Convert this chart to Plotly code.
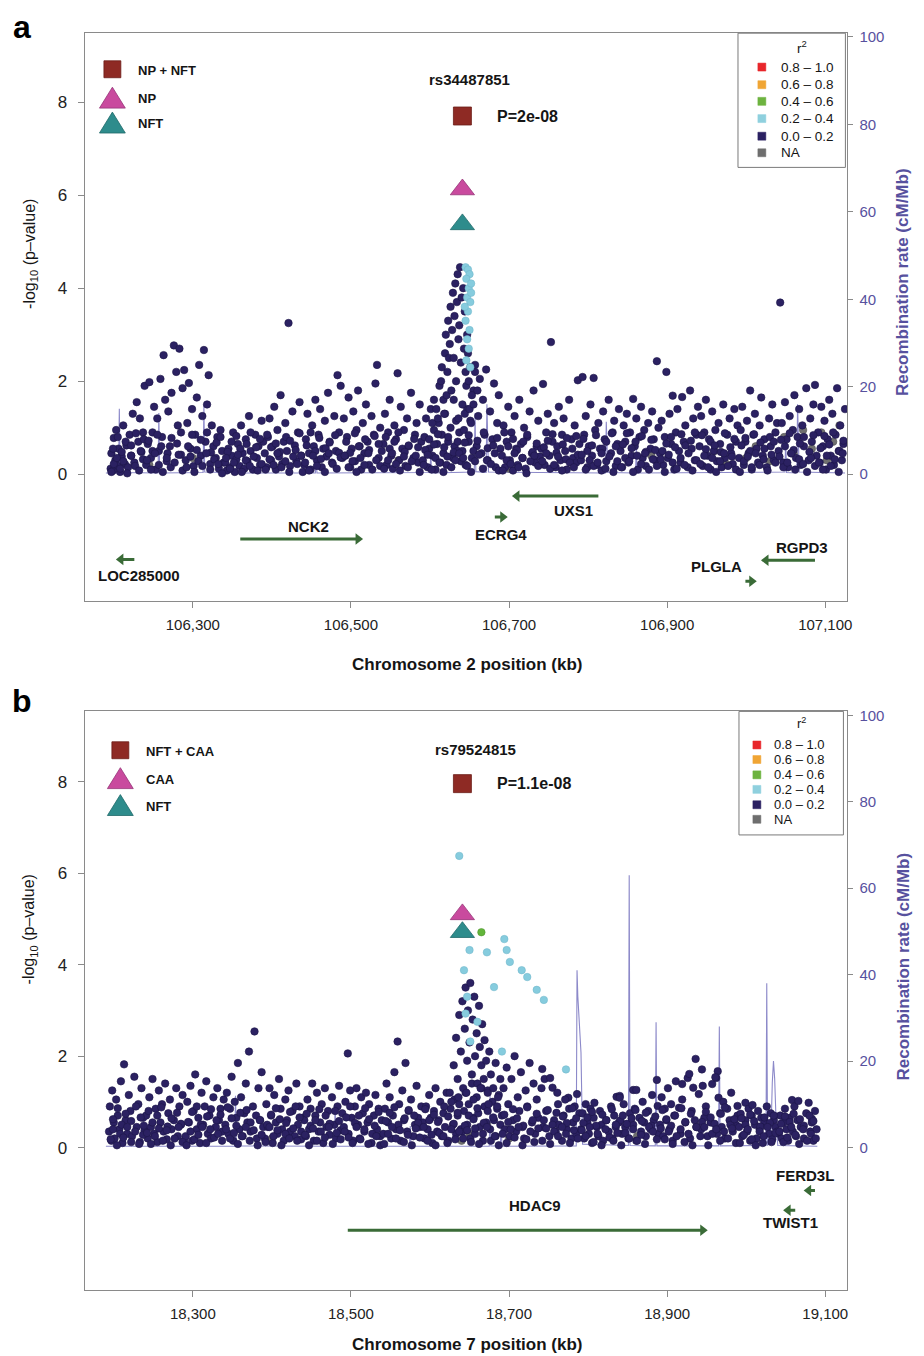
import plotly.graph_objects as go

FONT = "Liberation Sans, Arial, Helvetica, sans-serif"
W, H = 924, 1356

# ======================= DATA : panel a (chromosome 2) =======================
a_ticks_kb = [106300, 106500, 106700, 106900, 107100]

a_band_x = [
    106196,106197,106199,106200,106202,106203,106205,106206,106208,106210,106212,106214,106216,106218,106220,106222,106224,106226,106229,106231,106233,106235,106237,106239,
    106241,106243,106245,106247,106249,106251,106253,106255,106257,106259,106261,106263,106265,106267,106269,106271,106273,106276,106279,106281,106283,106285,106287,106289,
    106291,106293,106295,106297,106299,106301,106303,106305,106308,106310,106312,106314,106316,106318,106320,106322,106324,106326,106329,106331,106333,106335,106337,106339,
    106341,106343,106345,106347,106349,106351,106353,106355,106357,106359,106361,106363,106365,106367,106369,106371,106373,106376,106379,106381,106383,106385,106387,106389,
    106391,106393,106395,106397,106399,106401,106403,106405,106407,106409,106411,106413,106415,106417,106419,106421,106423,106426,106429,106431,106433,106435,106437,106439,
    106441,106443,106445,106447,106449,106451,106453,106455,106457,106459,106461,106463,106465,106467,106469,106471,106473,106476,106479,106481,106483,106485,106487,106489,
    106491,106493,106495,106497,106499,106501,106503,106505,106507,106509,106511,106513,106515,106517,106519,106521,106523,106526,106529,106531,106533,106535,106537,106539,
    106541,106543,106545,106547,106549,106551,106553,106555,106557,106559,106561,106563,106565,106567,106569,106571,106573,106576,106579,106581,106583,106585,106587,106589,
    106591,106593,106595,106597,106599,106601,106603,106605,106607,106609,106611,106613,106615,106617,106619,106621,106623,106626,106629,106631,106633,106635,106637,106639,
    106641,106643,106645,106647,106649,106651,106653,106655,106657,106659,106661,106663,106665,106667,106669,106671,106673,106676,106679,106681,106683,106685,106687,106689,
    106691,106693,106695,106697,106699,106701,106703,106705,106707,106709,106711,106713,106715,106717,106719,106721,106723,106726,106729,106731,106733,106735,106737,106739,
    106741,106743,106745,106747,106749,106751,106753,106755,106757,106759,106761,106763,106765,106767,106769,106771,106773,106776,106779,106781,106783,106785,106787,106789,
    106791,106793,106795,106797,106799,106801,106803,106805,106807,106809,106811,106813,106815,106817,106819,106821,106823,106826,106829,106831,106833,106835,106837,106839,
    106841,106843,106845,106847,106849,106851,106853,106855,106857,106859,106861,106863,106865,106867,106869,106871,106873,106876,106879,106881,106883,106885,106887,106889,
    106891,106893,106895,106897,106899,106901,106903,106905,106907,106909,106911,106913,106915,106917,106919,106921,106923,106926,106929,106931,106933,106935,106937,106939,
    106941,106943,106945,106947,106949,106951,106953,106955,106957,106959,106961,106963,106965,106967,106969,106971,106973,106976,106979,106981,106983,106985,106987,106989,
    106991,106993,106995,106997,106999,107001,107003,107005,107007,107009,107011,107013,107015,107017,107019,107021,107023,107026,107029,107031,107033,107035,107037,107039,
    107041,107043,107045,107047,107049,107051,107053,107055,107057,107059,107061,107063,107065,107067,107069,107071,107073,107076,107079,107081,107083,107085,107087,107089,
    107091,107093,107095,107097,107099,107101,107103,107105,107107,107109,107111,107113,107115,107117,107119,107121,107123,107125,
]
a_band_y = [
    0.12,0.45,0.08,0.78,0.30,0.95,0.18,0.55,0.05,0.38,1.05,0.22,0.62,0.15,0.85,0.40,1.30,0.25,1.55,0.70,1.20,0.48,0.90,1.90,
    0.20,0.65,1.98,0.35,0.90,1.45,0.10,1.20,0.50,2.05,0.80,2.56,1.60,0.28,1.35,0.60,1.75,2.77,2.20,1.05,2.70,0.42,1.85,2.24,
    0.30,1.10,1.96,0.55,1.40,0.18,0.85,1.65,2.35,0.40,1.25,2.67,0.70,1.50,2.13,0.22,1.05,0.60,0.35,0.80,0.12,0.95,0.50,0.25,
    0.25,0.08,0.55,0.15,0.40,0.90,0.05,0.32,0.65,0.18,1.05,0.45,0.12,0.75,0.28,1.25,0.50,0.10,0.85,0.35,0.60,0.20,1.15,0.70,
    0.45,0.15,0.80,1.20,0.30,0.60,1.45,0.10,0.95,0.38,1.70,0.22,0.70,1.10,0.50,3.25,0.18,1.35,0.62,0.28,0.90,1.55,0.40,0.05,
    0.20,0.75,1.30,0.45,0.10,1.05,0.60,1.60,0.30,0.85,1.40,0.15,0.55,1.15,0.38,1.75,0.70,0.25,1.25,0.50,2.13,0.90,1.90,0.35,
    1.20,0.40,0.80,1.65,0.15,0.55,1.35,0.28,0.95,1.80,0.60,0.10,1.10,0.45,1.50,0.70,0.20,1.25,0.85,1.95,2.35,0.35,1.00,0.50,
    0.65,1.30,0.20,0.90,1.60,0.40,0.12,1.05,0.75,2.17,0.30,1.45,0.55,0.95,0.18,1.20,0.60,1.75,0.35,0.85,1.10,0.25,1.50,0.70,
    0.30,0.80,1.20,0.15,0.55,1.40,0.40,0.95,0.10,0.65,1.10,0.25,0.85,0.45,1.30,0.20,0.70,1.00,0.35,0.60,1.15,0.50,0.90,0.28,
    0.50,0.95,0.20,1.40,0.70,1.15,0.35,1.80,2.35,0.60,1.25,2.05,0.45,1.60,0.85,2.25,0.30,1.35,0.75,1.95,0.15,1.10,1.70,0.55,
    0.40,1.05,0.15,0.70,1.45,0.30,0.90,0.08,1.25,0.55,0.20,1.60,0.65,0.35,1.00,0.12,0.80,1.35,0.45,1.80,0.25,0.60,1.15,0.38,
    0.55,1.94,0.20,0.90,1.30,0.40,2.84,0.70,1.10,0.15,0.60,1.45,0.30,0.85,1.20,0.50,0.10,1.60,0.75,0.35,1.05,0.25,2.02,0.65,
    0.30,2.09,0.85,1.25,0.15,0.60,1.50,0.40,2.07,0.95,0.20,1.10,0.55,0.08,1.35,0.75,0.28,1.60,0.45,0.90,1.15,0.18,0.65,1.40,
    0.50,0.15,1.05,0.70,1.30,0.25,0.90,0.40,1.62,0.60,1.20,0.10,0.80,1.45,0.35,0.95,0.18,1.10,0.55,1.35,0.75,0.30,2.43,1.00,
    0.45,1.15,0.20,0.80,2.20,0.35,1.30,0.65,1.69,0.10,0.90,1.40,0.50,0.25,1.66,0.70,1.05,0.15,1.80,0.55,1.20,0.30,0.85,1.45,
    0.60,1.25,0.18,0.90,1.60,0.40,0.75,0.10,1.35,0.50,0.95,0.28,1.10,0.65,0.15,1.50,0.35,0.85,1.20,0.45,0.22,1.40,0.70,1.05,
    0.35,0.95,1.45,0.20,0.70,1.15,0.45,1.80,0.10,0.85,1.30,0.55,0.25,1.05,1.65,0.40,0.75,0.15,1.20,0.60,1.50,0.30,0.90,1.10,
    0.50,3.69,1.10,0.25,1.55,0.75,0.15,1.25,0.45,0.95,1.70,0.35,0.80,1.40,0.20,1.05,0.60,1.85,0.30,1.20,0.70,1.50,1.92,0.40,
    0.90,0.25,1.45,0.60,1.15,0.10,0.75,1.60,0.40,1.30,0.20,0.85,1.85,0.50,1.05,0.30,0.65,1.40,
]
a_low_x = [
    106197,106200,106204,106208,106212,106217,106222,106227,106232,106237,
    106242,106247,106252,106257,106262,106267,106272,106277,106282,106287,
    106292,106297,106302,106307,106312,106317,106322,106327,106332,106337,
    106342,106347,106352,106357,106362,106367,106372,106377,106382,106387,
    106392,106397,106402,106407,106412,106417,106422,106427,106432,106437,
    106442,106447,106452,106457,106462,106467,106472,106477,106482,106487,
    106492,106497,106502,106507,106512,106517,106522,106527,106532,106537,
    106542,106547,106552,106557,106562,106567,106572,106577,106582,106587,
    106592,106597,106602,106607,106612,106617,106622,106627,106632,106637,
    106642,106647,106652,106657,106662,106667,106672,106677,106682,106687,
    106692,106697,106702,106707,106712,106717,106722,106727,106732,106737,
    106742,106747,106752,106757,106762,106767,106772,106777,106782,106787,
    106792,106797,106802,106807,106812,106817,106822,106827,106832,106837,
    106842,106847,106852,106857,106862,106867,106872,106877,106882,106887,
    106892,106897,106902,106907,106912,106917,106922,106927,106932,106937,
    106942,106947,106952,106957,106962,106967,106972,106977,106982,106987,
    106992,106997,107002,107007,107012,107017,107022,107027,107032,107037,
    107042,107047,107052,107057,107062,107067,107072,107077,107082,107087,
    107092,107097,107102,107107,107112,107117,107122,
]
a_low_y = [
    0.05,0.22,0.35,0.12,0.28,0.02,0.40,0.18,0.08,0.32,
    0.30,0.10,0.45,0.20,0.05,0.35,0.15,0.25,0.42,0.08,
    0.15,0.38,0.05,0.28,0.18,0.45,0.10,0.32,0.22,0.02,
    0.35,0.12,0.25,0.42,0.05,0.30,0.18,0.38,0.08,0.22,
    0.10,0.32,0.20,0.45,0.15,0.28,0.05,0.38,0.22,0.40,
    0.25,0.08,0.40,0.18,0.33,0.05,0.45,0.22,0.12,0.36,
    0.40,0.15,0.28,0.05,0.35,0.20,0.45,0.10,0.30,0.18,
    0.12,0.30,0.45,0.22,0.08,0.38,0.15,0.28,0.40,0.05,
    0.20,0.42,0.10,0.35,0.25,0.05,0.38,0.15,0.30,0.45,
    0.35,0.18,0.05,0.28,0.42,0.12,0.30,0.22,0.45,0.08,
    0.08,0.30,0.22,0.45,0.15,0.35,0.02,0.28,0.40,0.18,
    0.28,0.45,0.12,0.20,0.38,0.08,0.32,0.25,0.15,0.42,
    0.42,0.10,0.30,0.18,0.25,0.45,0.12,0.38,0.05,0.28,
    0.15,0.35,0.28,0.05,0.40,0.22,0.45,0.10,0.32,0.18,
    0.32,0.05,0.42,0.25,0.12,0.35,0.20,0.45,0.08,0.30,
    0.22,0.40,0.15,0.35,0.05,0.28,0.45,0.18,0.38,0.10,
    0.05,0.28,0.38,0.15,0.45,0.20,0.32,0.08,0.42,0.25,
    0.38,0.15,0.25,0.45,0.10,0.32,0.22,0.05,0.35,0.18,
    0.25,0.10,0.40,0.18,0.32,0.05,0.45,
]
a_mid_x = [
    106199,106205,106210,106215,106222,106228,106234,106238,
    106244,106249,106255,106260,106268,106273,106280,106285,
    106294,106299,106305,106310,106318,106323,106330,106335,
    106344,106349,106355,106360,106368,106373,106380,106385,
    106394,106399,106405,106410,106418,106423,106430,106435,
    106444,106449,106455,106460,106468,106473,106480,106485,
    106494,106499,106505,106510,106518,106523,106530,106535,
    106544,106549,106555,106560,106568,106573,106580,106585,
    106594,106599,106605,106610,106618,106623,106630,106635,
    106644,106649,106655,106660,106668,106673,106680,106685,
    106694,106699,106705,106710,106718,106723,106730,106735,
    106744,106749,106755,106760,106768,106773,106780,106785,
    106794,106799,106805,106810,106818,106823,106830,106835,
    106844,106849,106855,106860,106868,106873,106880,106885,
    106894,106899,106905,106910,106918,106923,106930,106935,
    106944,106949,106955,106960,106968,106973,106980,106985,
    106994,106999,107005,107010,107018,107023,107030,107035,
    107044,107049,107055,107060,107068,107073,107080,107085,
    107094,107099,107105,107110,107118,107123,
]
a_mid_y = [
    0.55,0.80,0.48,0.70,0.62,0.88,0.50,0.75,
    0.72,0.50,0.85,0.60,0.45,0.78,0.66,0.90,
    0.60,0.85,0.52,0.74,0.90,0.47,0.68,0.80,
    0.48,0.70,0.82,0.55,0.65,0.90,0.58,0.76,
    0.85,0.58,0.66,0.48,0.80,0.72,0.52,0.88,
    0.62,0.90,0.50,0.78,0.56,0.68,0.84,0.46,
    0.70,0.46,0.88,0.60,0.75,0.52,0.82,0.65,
    0.80,0.55,0.70,0.90,0.48,0.62,0.76,0.58,
    0.52,0.75,0.64,0.86,0.58,0.80,0.47,0.70,
    0.68,0.84,0.50,0.72,0.90,0.56,0.62,0.78,
    0.90,0.60,0.76,0.52,0.70,0.85,0.48,0.66,
    0.58,0.72,0.86,0.46,0.64,0.78,0.55,0.82,
    0.76,0.50,0.62,0.84,0.55,0.70,0.88,0.60,
    0.64,0.88,0.56,0.70,0.82,0.48,0.74,0.52,
    0.50,0.66,0.80,0.58,0.86,0.62,0.72,0.90,
    0.84,0.54,0.70,0.62,0.48,0.88,0.58,0.76,
    0.62,0.78,0.50,0.86,0.68,0.55,0.80,0.70,
    0.74,0.60,0.88,0.52,0.66,0.80,0.48,0.84,
    0.56,0.82,0.64,0.90,0.50,0.72,
]
a_peak_x = [106603,106605,106608,106610,106612,106614,106615,106617,106618,106619,106620,106621,106622,106623,106624,106625,106626,
            106627,106628,106629,106630,106630,106631,106632,106633,106634,106635,106636,106636,106637,106638,106639,106640,106641,
            106642,106643,106644,106644,106645,106646,106647,106648,106649,106650,106651,106652,106653,106655,106657,106660]
a_peak_y = [1.10,1.60,1.40,1.20,1.90,2.00,2.30,1.60,1.30,2.60,3.00,1.70,2.20,3.30,2.50,2.80,3.60,
            1.80,3.10,3.90,2.50,1.60,3.40,4.10,2.00,3.70,4.30,2.90,1.20,3.20,4.45,2.40,3.80,1.50,
            4.00,2.70,3.50,1.30,2.20,1.90,3.00,2.60,2.00,1.40,2.30,1.10,1.70,1.50,2.20,1.80]
a_lblue_x = [106645,106648,106650,106646,106649,106647,106651,106648,106645,106650,106647,106649,106646,106651,106644,106652,106652]
a_lblue_y = [4.45,4.40,4.30,4.20,4.00,3.80,3.70,3.50,3.30,3.10,2.90,2.70,2.45,2.30,3.60,4.10,3.90]
a_gray_x = [106245,106300,106405,106560,106700,106880,106960,106975,107000,107012,107030,107048,107060,107072,107083,107095,107102,107110,107118]
a_gray_y = [0.20,0.35,0.15,0.30,0.12,0.40,0.50,0.22,0.35,0.60,0.28,0.80,0.45,0.95,0.55,0.90,0.30,0.70,1.05]

a_rec_kb = [106190, 106206,106207,106208, 106256,106257,106258, 106313,106314,106315, 106363,106364,106366,
            106455,106456,106457, 106600,106601,106602, 106656,106657,106658, 106671,106672,106674,
            106822,106823,106825, 106860,106861,106862, 107049,107050,107051, 107064,107065,107067, 107125]
a_rec_rate = [0.3, 0.3,15,0.4, 0.3,14,0.3, 0.4,16,0.5, 0.3,6,0.3,
              0.3,4,0.3, 0.4,5,0.3, 0.5,14,0.6, 0.4,16,0.5,
              0.3,12,0.4, 0.3,6,0.3, 0.5,8,0.4, 0.3,16,0.5, 0.3]

a_lead_snp = "rs34487851"
a_lead_kb = 106641
a_lead_p_text = "P=2e-08"
a_lead_logp = [7.70, 6.12, 5.37]          # NP + NFT, NP, NFT
a_lead_names = ["NP + NFT", "NP", "NFT"]

a_gene_names = ["UXS1", "ECRG4", "NCK2", "LOC285000", "RGPD3", "PLGLA"]
a_gene_start = [106710, 106682, 106360, 106209, 107025, 106999]
a_gene_end = [106813, 106692, 106509, 106226, 107087, 107007]
a_gene_strand = ["-", "+", "+", "-", "-", "+"]
a_gene_row = [-0.47, -0.92, -1.39, -1.83, -1.85, -2.30]
a_label_x = [106782, 106690, 106446, 106232, 107071, 106963]
a_label_y = [-0.77, -1.30, -1.13, -2.17, -1.58, -1.98]

# ======================= DATA : panel b (chromosome 7) =======================
b_ticks_kb = [18300, 18500, 18700, 18900, 19100]

b_band_x = [
    18194,18195,18197,18198,18200,18201,18203,18205,18207,18209,18211,18213,18215,18217,18219,18221,18223,18226,18229,18231,18233,18235,18237,18239,
    18241,18243,18245,18247,18249,18251,18253,18255,18257,18259,18261,18263,18265,18267,18269,18271,18273,18276,18279,18281,18283,18285,18287,18289,
    18291,18293,18295,18297,18299,18301,18303,18305,18307,18309,18311,18313,18315,18317,18319,18321,18323,18326,18329,18331,18333,18335,18337,18339,
    18341,18343,18345,18347,18349,18351,18353,18355,18357,18359,18361,18363,18365,18367,18369,18371,18373,18376,18378,18381,18383,18385,18387,18389,
    18391,18393,18395,18397,18399,18401,18403,18405,18407,18409,18411,18413,18415,18417,18419,18421,18423,18426,18429,18431,18433,18435,18437,18439,
    18441,18443,18445,18447,18449,18451,18453,18455,18457,18459,18461,18463,18465,18467,18469,18471,18473,18476,18479,18481,18483,18485,18487,18489,
    18491,18493,18496,18497,18499,18501,18503,18505,18507,18509,18511,18513,18515,18517,18519,18521,18523,18526,18529,18531,18533,18535,18537,18539,
    18541,18543,18545,18547,18549,18551,18553,18555,18557,18559,18561,18563,18565,18567,18569,18571,18573,18576,18579,18581,18583,18585,18587,18589,
    18591,18593,18595,18597,18599,18601,18603,18605,18607,18609,18611,18613,18615,18617,18619,18621,18623,18626,18629,18631,18633,18635,18637,18639,
    18641,18643,18645,18647,18649,18651,18653,18655,18657,18659,18661,18663,18665,18667,18669,18671,18673,18676,18679,18681,18683,18685,18687,18689,
    18691,18693,18695,18697,18699,18701,18703,18705,18707,18709,18711,18713,18715,18717,18719,18721,18723,18726,18729,18731,18733,18735,18737,18742,
    18741,18743,18745,18747,18752,18751,18755,18757,18762,18759,18761,18763,18775,18767,18769,18771,18773,18776,18779,18786,18781,18783,18785,18789,
    18791,18793,18795,18797,18799,18801,18803,18805,18807,18808,18811,18813,18815,18817,18819,18836,18823,18826,18829,18831,18833,18835,18840,18839,
    18841,18843,18845,18847,18840,18851,18853,18857,18857,18859,18861,18861,18865,18867,18869,18871,18873,18876,18879,18881,18883,18887,18888,18889,
    18891,18893,18895,18897,18899,18901,18903,18905,18907,18909,18911,18915,18919,18917,18919,18926,18923,18928,18929,18931,18933,18936,18937,18944,
    18940,18943,18945,18947,18949,18951,18957,18962,18955,18964,18961,18963,18965,18967,18969,18971,18973,18976,18979,18981,18983,18989,18987,18989,
    18991,18993,18995,18999,18999,19001,19003,19005,19007,19008,19011,19013,19015,19017,19019,19021,19023,19026,19029,19031,19033,19035,19037,19039,
    19041,19043,19045,19047,19049,19051,19053,19055,19058,19059,19061,19063,19065,19066,19069,19079,19073,19076,19083,19081,19083,19085,19087,19089,
]
b_band_y = [
    0.35,0.90,0.15,1.25,0.55,0.20,1.05,0.70,0.40,1.45,0.10,1.82,0.60,0.30,1.15,0.80,0.25,1.55,0.45,0.95,0.12,1.30,0.65,0.38,
    0.70,0.20,1.10,0.45,1.50,0.30,0.85,0.12,1.25,0.55,0.95,0.35,1.40,0.18,0.75,1.05,0.40,0.60,1.30,0.25,0.90,0.50,1.15,0.15,
    0.25,1.00,0.55,1.35,0.15,0.80,1.60,0.40,0.65,0.10,1.20,0.50,0.90,1.45,0.30,0.70,0.20,1.10,0.45,1.30,0.60,0.85,0.35,1.05,
    0.50,1.20,0.30,0.85,1.55,0.15,1.00,0.65,1.85,0.40,1.10,0.25,0.75,1.40,0.55,2.10,0.35,0.90,2.54,0.20,1.30,0.60,1.65,0.45,
    0.20,0.95,0.45,1.30,0.70,0.10,1.15,0.55,0.30,1.50,0.85,0.40,0.15,1.05,0.60,1.25,0.35,0.80,0.25,1.40,0.50,0.90,0.18,0.65,
    0.60,0.25,1.05,0.40,0.85,1.40,0.15,0.70,1.20,0.35,0.55,0.95,0.10,1.30,0.45,0.80,0.28,1.10,0.50,0.20,0.90,1.35,0.38,0.75,
    0.45,1.00,2.06,0.30,1.25,0.65,0.15,0.90,1.30,0.50,0.20,1.10,0.75,0.35,1.20,0.55,0.95,0.10,0.70,1.15,0.40,0.85,0.25,0.60,
    0.30,0.85,1.40,0.55,1.10,0.20,0.70,1.65,0.40,2.32,0.95,0.15,1.25,0.60,1.85,0.35,0.80,1.05,0.25,0.50,1.35,0.65,0.45,0.90,
    0.55,0.20,0.90,0.40,1.15,0.65,0.10,0.80,1.30,0.35,0.60,1.00,0.25,0.75,0.45,1.20,0.15,0.85,0.50,1.05,0.30,0.70,0.95,0.40,
    0.35,0.80,1.20,0.50,0.95,0.20,1.40,0.65,0.30,1.10,0.75,0.45,1.30,0.15,0.90,0.55,1.25,0.40,1.00,0.60,0.25,0.85,1.15,0.50,
    0.70,1.30,0.40,1.75,0.95,0.25,1.50,0.60,2.00,0.35,1.10,0.80,1.65,0.45,0.20,1.25,0.90,1.85,0.55,1.40,0.30,1.05,0.65,1.72,
    1.30,0.45,1.50,0.80,1.52,0.25,1.31,0.60,0.95,0.35,1.20,0.50,1.09,0.15,0.70,1.05,0.40,0.85,0.20,1.17,0.55,0.90,0.30,0.75,
    0.40,0.75,0.20,0.95,0.55,0.30,0.85,0.10,0.65,0.98,0.45,0.25,0.80,0.50,0.15,1.11,0.60,0.35,0.90,0.20,0.70,0.45,1.13,0.55,
    0.60,0.30,0.95,0.45,1.09,0.20,0.75,1.26,0.50,0.85,0.15,1.26,0.65,0.35,1.00,0.55,0.25,0.80,0.40,1.15,0.60,1.48,0.91,0.30,
    0.50,1.10,0.25,0.85,0.60,1.30,0.40,0.95,0.15,0.70,1.45,0.87,1.39,0.30,1.05,1.52,0.55,1.61,0.20,0.80,1.31,1.94,0.45,1.71,
    1.17,0.40,1.35,0.65,0.90,0.25,1.39,1.52,0.55,1.67,1.54,0.30,1.09,0.75,0.45,1.00,0.20,0.85,0.60,1.20,0.35,0.91,0.50,0.70,
    0.45,0.74,0.25,0.98,0.60,0.35,0.85,0.15,0.70,0.93,0.50,0.20,0.80,0.40,0.65,0.10,0.55,0.90,0.30,0.75,0.18,0.60,0.45,0.35,
    0.30,0.70,0.20,0.55,0.85,0.40,0.15,0.65,1.04,0.35,0.90,0.25,0.60,1.02,0.45,0.98,0.20,0.75,0.63,0.35,0.55,0.15,0.80,0.40,
]
b_low_x = [
    18196,18199,18204,18208,18212,18217,18222,18227,18232,18237,
    18242,18247,18252,18257,18262,18267,18272,18277,18282,18287,
    18292,18297,18302,18307,18312,18317,18322,18327,18332,18337,
    18342,18347,18352,18357,18362,18367,18372,18377,18382,18387,
    18392,18397,18402,18407,18412,18417,18422,18427,18432,18437,
    18442,18447,18452,18457,18462,18467,18472,18477,18482,18487,
    18492,18497,18502,18507,18512,18517,18522,18527,18532,18537,
    18542,18547,18552,18557,18562,18567,18572,18577,18582,18587,
    18592,18597,18602,18607,18612,18617,18622,18627,18632,18637,
    18642,18647,18652,18657,18662,18667,18672,18677,18682,18687,
    18692,18697,18702,18707,18712,18717,18722,18727,18732,18737,
    18742,18747,18752,18757,18762,18767,18772,18777,18782,18787,
    18792,18797,18802,18807,18812,18817,18822,18827,18832,18837,
    18842,18847,18852,18857,18862,18867,18872,18877,18882,18887,
    18892,18897,18902,18907,18912,18917,18922,18927,18932,18937,
    18942,18947,18952,18957,18962,18967,18972,18977,18982,18987,
    18992,18997,19002,19007,19012,19017,19022,19027,19032,19037,
    19042,19047,19052,19057,19062,19067,19072,19077,19082,19088,
]
b_low_y = [
    0.18,0.40,0.05,0.30,0.22,0.45,0.12,0.35,0.08,0.28,
    0.32,0.08,0.25,0.42,0.15,0.38,0.05,0.20,0.45,0.12,
    0.05,0.35,0.18,0.28,0.45,0.10,0.40,0.22,0.30,0.15,
    0.40,0.20,0.32,0.08,0.25,0.45,0.15,0.38,0.05,0.28,
    0.12,0.45,0.25,0.38,0.05,0.30,0.20,0.42,0.15,0.35,
    0.28,0.05,0.42,0.15,0.35,0.22,0.45,0.08,0.32,0.18,
    0.35,0.22,0.10,0.45,0.18,0.40,0.08,0.30,0.25,0.05,
    0.08,0.30,0.45,0.20,0.38,0.12,0.28,0.05,0.42,0.22,
    0.45,0.15,0.28,0.05,0.32,0.25,0.10,0.40,0.18,0.35,
    0.20,0.38,0.12,0.42,0.08,0.30,0.45,0.15,0.25,0.05,
    0.30,0.10,0.40,0.22,0.45,0.05,0.18,0.35,0.12,0.42,
    0.15,0.42,0.08,0.35,0.25,0.45,0.30,0.10,0.38,0.20,
    0.38,0.25,0.45,0.12,0.30,0.05,0.40,0.22,0.15,0.32,
    0.05,0.32,0.20,0.40,0.15,0.28,0.08,0.45,0.35,0.18,
    0.42,0.18,0.35,0.08,0.25,0.40,0.12,0.30,0.05,0.45,
    0.25,0.45,0.05,0.30,0.40,0.15,0.35,0.20,0.42,0.10,
    0.10,0.28,0.40,0.18,0.05,0.35,0.25,0.45,0.12,0.32,
    0.35,0.12,0.22,0.45,0.28,0.08,0.40,0.15,0.30,0.20,
]
b_mid_x = [
    18199,18205,18210,18215,18222,18228,18234,18238,
    18244,18249,18255,18260,18268,18273,18280,18285,
    18294,18299,18305,18310,18318,18323,18330,18335,
    18344,18349,18355,18360,18368,18373,18380,18385,
    18394,18399,18405,18410,18418,18423,18430,18435,
    18444,18449,18455,18460,18468,18473,18480,18485,
    18494,18499,18505,18510,18518,18523,18530,18535,
    18544,18549,18555,18560,18568,18573,18580,18585,
    18594,18599,18605,18610,18618,18623,18630,18635,
    18644,18649,18655,18660,18668,18673,18680,18685,
    18694,18699,18705,18710,18718,18723,18730,18735,
    18744,18749,18755,18760,18768,18773,18780,18785,
    18794,18799,18805,18810,18818,18823,18830,18835,
    18844,18849,18855,18860,18868,18873,18880,18885,
    18894,18899,18905,18910,18918,18923,18930,18935,
    18944,18949,18955,18960,18968,18973,18980,18985,
    18994,18999,19005,19010,19018,19023,19030,19035,
    19044,19049,19055,19060,19068,19073,19080,19085,
]
b_mid_y = [
    0.62,0.86,0.50,0.74,0.58,0.90,0.66,0.48,
    0.80,0.55,0.70,0.88,0.46,0.64,0.76,0.52,
    0.56,0.78,0.90,0.50,0.68,0.84,0.60,0.72,
    0.88,0.64,0.48,0.76,0.82,0.55,0.70,0.60,
    0.50,0.72,0.86,0.62,0.54,0.78,0.90,0.66,
    0.74,0.48,0.60,0.84,0.70,0.52,0.80,0.58,
    0.66,0.90,0.54,0.70,0.86,0.62,0.48,0.78,
    0.58,0.76,0.88,0.50,0.64,0.82,0.70,0.54,
    0.84,0.60,0.72,0.56,0.90,0.68,0.52,0.76,
    0.48,0.70,0.62,0.86,0.54,0.80,0.66,0.90,
    0.72,0.56,0.84,0.64,0.48,0.88,0.60,0.74,
    0.60,0.82,0.50,0.76,0.68,0.54,0.86,0.64,
    0.54,0.66,0.78,0.48,0.72,0.60,0.84,0.50,
    0.70,0.52,0.64,0.82,0.58,0.76,0.48,0.68,
    0.82,0.62,0.48,0.70,0.86,0.56,0.74,0.60,
    0.56,0.78,0.66,0.52,0.74,0.88,0.50,0.62,
    0.64,0.50,0.72,0.58,0.46,0.66,0.54,0.70,
    0.52,0.68,0.56,0.74,0.62,0.48,0.70,0.58,
]
b_peak_x = [18630,18633,18635,18637,18639,18641,18642,18644,18645,18647,18648,18650,18651,18653,18654,18656,18657,
            18659,18660,18662,18663,18665,18666,18668,18669,18671,18673,18675,18677,18680,18683,18686,18689,
            18625,18627,18636,18646,18655,18664,18674]
b_peak_y = [1.80,2.40,1.50,2.90,2.10,3.20,1.30,2.60,3.50,1.90,3.00,2.30,3.60,1.60,2.80,3.30,2.00,
            2.50,1.40,3.10,2.20,1.80,2.70,1.50,2.35,1.90,1.20,2.10,1.60,1.30,1.85,1.10,1.50,
            1.20,1.00,1.10,1.20,1.05,1.30,0.95]
b_lblue_x = [18637,18650,18672,18694,18697,18701,18716,18723,18735,18744,18643,18647,18681,18645,18660,18691,18651,18772]
b_lblue_y = [6.38,4.32,4.27,4.56,4.32,4.06,3.88,3.73,3.45,3.23,3.88,3.30,3.51,2.93,2.75,2.10,2.32,1.71]
b_green_x = [18665]
b_green_y = [4.71]
b_gray_x = [18400, 18640, 18650, 18672, 18700, 18862]
b_gray_y = [0.20, 0.15, 0.30, 0.50, 0.20, 0.25]

b_rec_kb = [18190, 18353,18354,18355, 18479,18480,18481, 18574,18575,18576, 18675,18676,18677, 18689,18690,18691,
            18785,18786,18787,18789,18791,18793, 18851,18852,18853, 18885,18886,18887, 18965,18966,18967,
            19025,19026,19027, 19031,19033,19034.5,19036,19038,19040, 19090]
b_rec_rate = [0.3, 0.3,12,0.4, 0.3,10,0.3, 0.3,5,0.3, 0.3,12,0.4, 0.3,6,0.3,
              0.4,41,35,28,22,0.8, 0.5,63,0.5, 0.4,29,0.4, 0.4,28,0.4,
              0.5,38,0.6, 1.0,15,20,16,5,0.5, 0.3]

b_lead_snp = "rs79524815"
b_lead_kb = 18641
b_lead_p_text = "P=1.1e-08"
b_lead_logp = [7.96, 5.10, 4.71]          # NFT + CAA, CAA, NFT
b_lead_names = ["NFT + CAA", "CAA", "NFT"]

b_gene_names = ["HDAC9", "TWIST1", "FERD3L"]
b_gene_start = [18496, 19053, 19079]
b_gene_end = [18945, 19062, 19087]
b_gene_strand = ["+", "-", "-"]
b_gene_row = [-1.81, -1.37, -0.94]
b_label_x = [18733, 19056, 19075]
b_label_y = [-1.26, -1.63, -0.61]

r2_labels = ["0.8 \u2013 1.0", "0.6 \u2013 0.8", "0.4 \u2013 0.6", "0.2 \u2013 0.4", "0.0 \u2013 0.2", "NA"]
r2_colors = ["#E8262B", "#F0A534", "#6DB33F", "#8FD0DE", "#2B2162", "#6E6E6E"]

# ======================= STYLE =======================
NAVY, LBLUE, GREEN, GRAY = r2_colors[4], "#86CCDE", "#62B53A", "#707070"
SQ_COL, PINK, TEAL = "#8E2A24", "#C94A9E", "#2E8C8C"
GENE_COL = "#3A6B37"
REC_COL = "#8C89C9"
AX_COL = "#8a8a8a"
RIGHT_COL = "#57519E"
DOT = 7.5

fig = go.Figure()


def pts(xs, ys, color, xa, ya, size=DOT, lc="#1d1648", lw=0.6, symbol="circle"):
    fig.add_trace(go.Scatter(x=xs, y=ys, mode="markers", xaxis=xa, yaxis=ya,
                             marker=dict(size=size, color=color, symbol=symbol,
                                         line=dict(width=lw, color=lc)),
                             showlegend=False, hoverinfo="skip"))


def panel(xa, ya_rec, ya_p, rec, gray, layers, lblue, green, lead_kb, lead_logp):
    fig.add_trace(go.Scatter(x=rec[0], y=rec[1], mode="lines", xaxis=xa, yaxis=ya_rec,
                             line=dict(color=REC_COL, width=1.1), showlegend=False, hoverinfo="skip"))
    pts(gray[0], gray[1], GRAY, xa, ya_p, lc="#555555")
    for lx, ly in layers:
        pts(lx, ly, NAVY, xa, ya_p)
    pts(lblue[0], lblue[1], LBLUE, xa, ya_p, lc="#6fb5c8", lw=0.5)
    if green is not None:
        pts(green[0], green[1], GREEN, xa, ya_p, lc="#4a8f2a", lw=0.5)
    pts([lead_kb], [lead_logp[2]], TEAL, xa, ya_p, size=21, lc="#1f6a6a", lw=0.8, symbol="triangle-up")
    pts([lead_kb], [lead_logp[1]], PINK, xa, ya_p, size=21, lc="#953477", lw=0.8, symbol="triangle-up")
    pts([lead_kb], [lead_logp[0]], SQ_COL, xa, ya_p, size=18, lc="#6b1c17", lw=0.8, symbol="square")


panel("x", "y", "y2", (a_rec_kb, a_rec_rate), (a_gray_x, a_gray_y),
      [(a_band_x, a_band_y), (a_mid_x, a_mid_y), (a_low_x, a_low_y), (a_peak_x, a_peak_y)],
      (a_lblue_x, a_lblue_y), None, a_lead_kb, a_lead_logp)
panel("x2", "y3", "y4", (b_rec_kb, b_rec_rate), (b_gray_x, b_gray_y),
      [(b_band_x, b_band_y), (b_mid_x, b_mid_y), (b_low_x, b_low_y), (b_peak_x, b_peak_y)],
      (b_lblue_x, b_lblue_y), (b_green_x, b_green_y), b_lead_kb, b_lead_logp)


# --- gene arrows (shaft line + triangular head) and labels
def genes(xa, ya, names, start, end, strand, row, lx, ly):
    for n, s, e, d, r, tx, ty in zip(names, start, end, strand, row, lx, ly):
        head = e if d == "+" else s
        sym = "triangle-right" if d == "+" else "triangle-left"
        fig.add_trace(go.Scatter(x=[s, e], y=[r, r], mode="lines", xaxis=xa, yaxis=ya,
                                 line=dict(color=GENE_COL, width=3), showlegend=False, hoverinfo="skip"))
        fig.add_trace(go.Scatter(x=[head], y=[r], mode="markers", xaxis=xa, yaxis=ya,
                                 marker=dict(symbol=sym, size=10, color=GENE_COL, line=dict(width=0)),
                                 showlegend=False, hoverinfo="skip"))
        fig.add_annotation(x=tx, y=ty, xref=xa, yref=ya, text="<b>%s</b>" % n, showarrow=False,
                           font=dict(family=FONT, size=15, color="#151515"))


genes("x", "y2", a_gene_names, a_gene_start, a_gene_end, a_gene_strand, a_gene_row, a_label_x, a_label_y)
genes("x2", "y4", b_gene_names, b_gene_start, b_gene_end, b_gene_strand, b_gene_row, b_label_x, b_label_y)

# --- lead SNP texts (data coordinates)
fig.add_annotation(x=a_lead_kb + 9, y=8.48, xref="x", yref="y2", text="<b>%s</b>" % a_lead_snp,
                   showarrow=False, font=dict(family=FONT, size=15, color="#151515"))
fig.add_annotation(x=a_lead_kb + 41, y=a_lead_logp[0], xref="x", yref="y2", text="<b>%s</b>" % a_lead_p_text,
                   showarrow=False, xanchor="left", font=dict(family=FONT, size=16, color="#151515"))
fig.add_annotation(x=b_lead_kb + 16, y=8.70, xref="x2", yref="y4", text="<b>%s</b>" % b_lead_snp,
                   showarrow=False, font=dict(family=FONT, size=15, color="#151515"))
fig.add_annotation(x=b_lead_kb + 41, y=b_lead_logp[0], xref="x2", yref="y4", text="<b>%s</b>" % b_lead_p_text,
                   showarrow=False, xanchor="left", font=dict(family=FONT, size=16, color="#151515"))


# --- paper-pixel helpers
def ptext(x, y, text, size, color="#151515", xanchor="center", angle=0):
    fig.add_annotation(xref="paper", yref="paper", x=x / W, y=1 - y / H, text=text, showarrow=False,
                       font=dict(family=FONT, size=size, color=color), xanchor=xanchor,
                       yanchor="middle", textangle=angle)


def prect(x0, y0, x1, y1, fill, line="#777777", lw=1):
    fig.add_shape(type="rect", xref="paper", yref="paper", x0=x0 / W, x1=x1 / W,
                  y0=1 - y1 / H, y1=1 - y0 / H, fillcolor=fill, line=dict(color=line, width=lw))


def ptri(cx, cy, w, h, fill, line):
    p = "M %f,%f L %f,%f L %f,%f Z" % ((cx - w / 2) / W, 1 - (cy + h / 2) / H,
                                     (cx + w / 2) / W, 1 - (cy + h / 2) / H,
                                     cx / W, 1 - (cy - h / 2) / H)
    fig.add_shape(type="path", xref="paper", yref="paper", path=p, fillcolor=fill,
                  line=dict(color=line, width=0.8))


def r2_legend(x0, y0, x1, y1, title_xy, sq_x, lab_x, ys, fs):
    prect(x0, y0, x1, y1, "white", line="#7a7a7a")
    ptext(title_xy[0], title_xy[1], "r<sup>2</sup>", fs)
    for yy, lab, col in zip(ys, r2_labels, r2_colors):
        prect(sq_x, yy - 4, sq_x + 8, yy + 4, col, line=col, lw=0.5)
        ptext(lab_x, yy, lab, fs, xanchor="left")


r2_legend(742, 28.3, 850, 163, (806, 42), 762, 783, [62.3, 80, 96.7, 114, 131.7, 148.3], 13.5)
r2_legend(743, 709, 848, 833, (806, 721), 757, 776, [742.7, 757.3, 772.7, 787.3, 802.7, 817.3], 13)


def trait_legend(x, ys, names, size):
    prect(x - 8.5, ys[0] - 8.5, x + 8.5, ys[0] + 8.5, SQ_COL, line="#6b1c17", lw=0.8)
    ptri(x, ys[1], 26, 21, PINK, "#953477")
    ptri(x, ys[2], 26, 21, TEAL, "#1f6a6a")
    for yy, n in zip(ys, names):
        ptext(x + 24, yy + 1, "<b>%s</b>" % n, size, xanchor="left")


trait_legend(113, [64.5, 93, 118], a_lead_names, 13)
trait_legend(121, [748, 776, 803], b_lead_names, 13)

# axis titles / panel letters
ptext(22, 22, "<b>a</b>", 32, color="#000000")
ptext(22, 699, "<b>b</b>", 32, color="#000000")
ptext(30, 250, "-log<sub>10</sub> (p\u2013value)", 16, angle=-90)
ptext(30, 928, "-log<sub>10</sub> (p\u2013value)", 16, angle=-90)
ptext(908, 278, "<b>Recombination rate (cM/Mb)</b>", 17, color=RIGHT_COL, angle=-90)
ptext(908, 965, "<b>Recombination rate (cM/Mb)</b>", 17, color=RIGHT_COL, angle=-90)
ptext(470, 662, "<b>Chromosome 2 position (kb)</b>", 17)
ptext(470, 1344, "<b>Chromosome 7 position (kb)</b>", 17)

# ======================= AXES =======================
XD = [85 / W, 852 / W]
A_YD = [1 - 598 / H, 1 - 28.3 / H]
B_YD = [1 - 1290 / H, 1 - 709 / H]
A_P = [-2.72, 9.48]
B_P = [-3.12, 9.54]
A_RATIO, B_RATIO = 10.64, 10.576

common_x = dict(showgrid=False, zeroline=False, showline=True, mirror=True, linecolor=AX_COL,
                ticks="outside", ticklen=6, tickcolor=AX_COL,
                tickfont=dict(family=FONT, size=15, color="#222222"), ticklabelstandoff=4)
rec_y = dict(showgrid=False, zeroline=False, showline=True, mirror=True, linecolor=AX_COL,
             side="right", ticks="outside", ticklen=5, tickcolor=AX_COL,
             tickvals=[0, 20, 40, 60, 80, 100],
             tickfont=dict(family=FONT, size=15, color=RIGHT_COL), ticklabelstandoff=3)
p_y = dict(showgrid=False, zeroline=False, showline=False, side="left", ticks="outside",
           ticklen=6, tickcolor=AX_COL, tickvals=[0, 2, 4, 6, 8],
           tickfont=dict(family=FONT, size=17, color="#222222"), ticklabelstandoff=7)

fig.update_layout(
    width=W, height=H, autosize=False,
    margin=dict(l=0, r=0, t=0, b=0),
    paper_bgcolor="white", plot_bgcolor="white",
    xaxis=dict(domain=XD, range=[106163, 107128], anchor="y",
               tickvals=a_ticks_kb, ticktext=["{:,}".format(v) for v in a_ticks_kb], **common_x),
    yaxis=dict(domain=A_YD, range=[A_P[0] * A_RATIO, A_P[1] * A_RATIO], anchor="x", **rec_y),
    yaxis2=dict(domain=A_YD, range=A_P, anchor="x", overlaying="y", **p_y),
    xaxis2=dict(domain=XD, range=[18163, 19128], anchor="y3",
                tickvals=b_ticks_kb, ticktext=["{:,}".format(v) for v in b_ticks_kb], **common_x),
    yaxis3=dict(domain=B_YD, range=[B_P[0] * B_RATIO, B_P[1] * B_RATIO], anchor="x2", **rec_y),
    yaxis4=dict(domain=B_YD, range=B_P, anchor="x2", overlaying="y3", **p_y),
    showlegend=False,
)

fig.write_html("out.html", config={"displayModeBar": False},
               post_script="document.body.style.margin='0';document.body.style.overflow='hidden';")
